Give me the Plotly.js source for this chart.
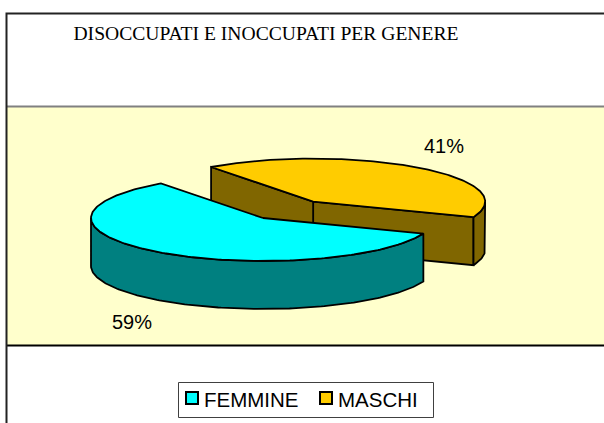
<!DOCTYPE html>
<html>
<head>
<meta charset="utf-8">
<script src="https://cdn.plot.ly/plotly-3.0.1.min.js"></script>
<style>html,body{margin:0;padding:0;background:#fff;}#chart{width:604px;height:423px;}</style>
</head>
<body>
<div id="chart"></div>
<script>
// ---- data ----
const categories = ['FEMMINE', 'MASCHI'];
const values = [59, 41];
const chartTitle = 'DISOCCUPATI E INOCCUPATI PER GENERE';

// ---- style ----
const topColors = ['#00FFFF', '#FFCC00'];
const sideColors = ['#008080', '#806600'];
const explode = [0, 0.48];

// geometry (pixel units, axes map 1 unit = 1 px)
const G = {cx: 263, cy: 218, rx: 172, ry: 43, depth: 48, start: 126.4};
const rad = d => d * Math.PI / 180;

const total = values.reduce((a, b) => a + b, 0);
let acc = G.start;
const slices = values.map((v, i) => {
  const a0 = acc, a1 = acc + v / total * 360;
  acc = a1;
  const mid = (a0 + a1) / 2;
  const c = {
    x: G.cx + explode[i] * G.rx * Math.cos(rad(mid)),
    y: G.cy - explode[i] * G.ry * Math.sin(rad(mid))
  };
  return {i, a0, a1, mid, c, v};
});

function pt(c, a, z) {
  return [c.x + G.rx * Math.cos(rad(a)), c.y - G.ry * Math.sin(rad(a)) + z];
}
function arc(c, a0, a1, z) {
  const pts = [];
  const n = Math.max(2, Math.ceil(Math.abs(a1 - a0)));
  for (let k = 0; k <= n; k++) pts.push(pt(c, a0 + (a1 - a0) * k / n, z));
  return pts;
}
function poly(pts, fill) {
  const xs = pts.map(p => p[0]), ys = pts.map(p => p[1]);
  xs.push(xs[0]); ys.push(ys[0]);
  return {x: xs, y: ys, type: 'scatter', mode: 'lines', fill: 'toself',
    fillcolor: fill, line: {color: '#000', width: 1.8}, hoverinfo: 'skip', showlegend: false};
}

const traces = [];
// back slices first
const order = slices.slice().sort((s, t) => Math.sin(rad(t.mid)) - Math.sin(rad(s.mid)));
order.forEach(s => {
  const c = s.c, D = G.depth;
  // radial faces
  [[s.a0, s.a0 - 90], [s.a1, s.a1 + 90]].forEach(([a, nrm]) => {
    if (Math.sin(rad(nrm)) < 0) {
      traces.push(poly([[c.x, c.y], pt(c, a, 0), pt(c, a, D), [c.x, c.y + D]], sideColors[s.i]));
    }
  });
  // outer curved side (front-facing part)
  for (let k = -1; k <= 2; k++) {
    const lo = Math.max(s.a0, 180 + 360 * k), hi = Math.min(s.a1, 360 + 360 * k);
    if (hi > lo) {
      const topA = arc(c, lo, hi, 0), botA = arc(c, hi, lo, D);
      traces.push(poly(topA.concat(botA), sideColors[s.i]));
    }
  }
  // top
  traces.push(poly([[c.x, c.y]].concat(arc(c, s.a0, s.a1, 0)), topColors[s.i]));
});

// percentage labels
const annotations = slices.map(s => {
  const f = 1.25, sn = Math.sin(rad(s.mid));
  const x = s.c.x + f * G.rx * Math.cos(rad(s.mid));
  let y = s.c.y - f * G.ry * sn;
  if (sn < 0) y += G.depth;
  return {x, y, xref: 'x', yref: 'y', text: Math.round(s.v / total * 100) + '%',
    showarrow: false, xanchor: 'center', yanchor: sn < 0 ? 'top' : 'bottom',
    font: {family: 'Liberation Sans, Arial, sans-serif', size: 20, color: '#000'}};
});

// legend (drawn manually to match the original layout)
const legendStart = [186, 320];
const legendY = 398;
const shapes = [
  {type: 'rect', xref: 'x', yref: 'y', x0: 7, x1: 610, y0: 106.5, y1: 345.5, fillcolor: '#FFFFCC', line: {width: 0}, layer: 'below'},
  {type: 'line', xref: 'x', yref: 'y', x0: 7, x1: 610, y0: 106.5, y1: 106.5, line: {color: '#808080', width: 2}, layer: 'below'},
  {type: 'line', xref: 'x', yref: 'y', x0: 7, x1: 610, y0: 345.5, y1: 345.5, line: {color: '#000', width: 2}, layer: 'below'},
  {type: 'rect', xref: 'x', yref: 'y', x0: 6.5, x1: 620, y0: 13.5, y1: 440, line: {color: '#222', width: 2}, fillcolor: 'rgba(0,0,0,0)', layer: 'above'},
  {type: 'rect', xref: 'x', yref: 'y', x0: 178.5, x1: 433.5, y0: 382.5, y1: 417.5, line: {color: '#404040', width: 1}, fillcolor: '#fff', layer: 'below'}
];
categories.forEach((name, i) => {
  const x0 = legendStart[i];
  shapes.push({type: 'rect', xref: 'x', yref: 'y', x0: x0, x1: x0 + 12, y0: legendY - 6, y1: legendY + 6,
    fillcolor: topColors[i], line: {color: '#000', width: 2}, layer: 'above'});
  annotations.push({x: x0 + 16, y: legendY + 1, xref: 'x', yref: 'y', text: name, showarrow: false,
    xanchor: 'left', yanchor: 'middle',
    font: {family: 'Liberation Sans, Arial, sans-serif', size: 20.5, color: '#000'}});
});

const layout = {
  width: 604, height: 423,
  margin: {l: 0, r: 0, t: 0, b: 0, pad: 0},
  paper_bgcolor: '#fff', plot_bgcolor: 'rgba(0,0,0,0)',
  title: {text: chartTitle, x: 266 / 604, xanchor: 'center', xref: 'paper',
    y: 1 - 33 / 423, yanchor: 'middle', yref: 'container',
    font: {family: 'Liberation Serif, Times New Roman, serif', size: 19.6, color: '#000'}},
  xaxis: {range: [0, 604], visible: false, fixedrange: true},
  yaxis: {range: [423, 0], visible: false, fixedrange: true},
  showlegend: false,
  shapes, annotations
};
Plotly.newPlot('chart', traces, layout, {staticPlot: true, displayModeBar: false});
</script>
</body>
</html>
